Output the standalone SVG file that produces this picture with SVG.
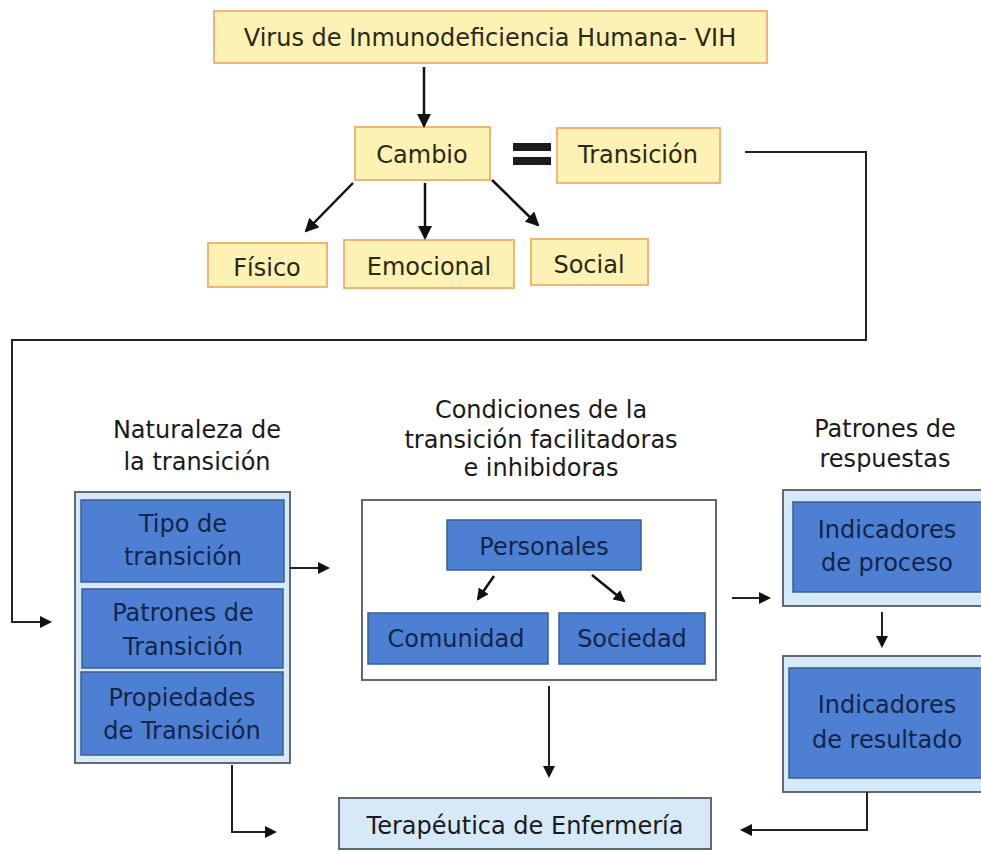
<svg xmlns="http://www.w3.org/2000/svg" width="981" height="852" viewBox="0 0 981 852">
<defs>
<style>
text{font-family:"DejaVu Sans","Verdana",sans-serif;font-size:24px;text-anchor:middle;}
.y{fill:#fdf1b4;stroke:#f0b57a;stroke-width:2;}
.yt{fill:#2a2a12;}
.b{fill:#4d80d2;stroke:#3b5d94;stroke-width:1.5;}
.bt{fill:#14244a;}
.c{fill:#d5e9f8;stroke:#5f6a73;stroke-width:2;}
.w{fill:#ffffff;stroke:#5f6a73;stroke-width:2;}
.h{fill:#1c1c1c;}
.ln{fill:none;stroke:#111;stroke-width:2.5;}
.lt{fill:none;stroke:#222;stroke-width:2;}
</style>
<marker id="ah" markerWidth="12" markerHeight="12" refX="10" refY="6" orient="auto" markerUnits="userSpaceOnUse">
<path d="M0,0 L12,6 L0,12 z" fill="#111"/>
</marker>
<marker id="ahb" markerWidth="14" markerHeight="14" refX="12" refY="7" orient="auto" markerUnits="userSpaceOnUse">
<path d="M0,0 L14,7 L0,14 z" fill="#111"/>
</marker>
</defs>
<rect width="981" height="852" fill="#ffffff"/>

<g id="equals">
<rect x="513" y="143" width="38" height="8" class="h"/>
<rect x="513" y="157" width="38" height="8" class="h"/>
</g>

<g id="vih">
<rect class="y" x="214" y="11" width="553" height="52"/>
<text class="yt" x="490" y="46">Virus de Inmunodeficiencia Humana- VIH</text>
</g>
<g id="cambio">
<rect class="y" x="355" y="127" width="135" height="53"/>
<text class="yt" x="422" y="163">Cambio</text>
</g>
<g id="transicion">
<rect class="y" x="557" y="128" width="163" height="55"/>
<text class="yt" x="638" y="163">Transición</text>
</g>
<g id="fisico">
<rect class="y" x="208" y="243" width="119" height="44"/>
<text class="yt" x="267" y="276">Físico</text>
</g>
<g id="emocional">
<rect class="y" x="344" y="240" width="170" height="48"/>
<text class="yt" x="429" y="275">Emocional</text>
</g>
<g id="social">
<rect class="y" x="531" y="239" width="117" height="46"/>
<text class="yt" x="589" y="273">Social</text>
</g>

<g id="naturaleza">
<text x="197" y="438" fill="#1a1a1a">Naturaleza de</text>
<text x="197" y="470" fill="#1a1a1a">la transición</text>
<rect class="c" x="75" y="492" width="215" height="271"/>
<rect class="b" x="81" y="500" width="203" height="82"/>
<text class="bt" x="183" y="532">Tipo de</text>
<text class="bt" x="183" y="565">transición</text>
<rect class="b" x="82" y="589" width="201" height="79"/>
<text class="bt" x="183" y="621">Patrones de</text>
<text class="bt" x="183" y="655">Transición</text>
<rect class="b" x="81" y="672" width="202" height="83"/>
<text class="bt" x="182" y="706">Propiedades</text>
<text class="bt" x="182" y="739">de Transición</text>
</g>

<g id="condiciones">
<text x="541" y="418" fill="#1a1a1a">Condiciones de la</text>
<text x="541" y="448" fill="#1a1a1a">transición facilitadoras</text>
<text x="541" y="476" fill="#1a1a1a">e inhibidoras</text>
<rect class="w" x="362" y="500" width="354" height="180"/>
</g>
<g id="personales">
<rect class="b" x="447" y="520" width="194" height="50"/>
<text class="bt" x="544" y="555">Personales</text>
</g>
<g id="comunidad">
<rect class="b" x="368" y="613" width="180" height="51"/>
<text class="bt" x="456" y="647">Comunidad</text>
</g>
<g id="sociedad">
<rect class="b" x="559" y="613" width="146" height="51"/>
<text class="bt" x="632" y="647">Sociedad</text>
</g>

<g id="patrones">
<text x="885" y="437" fill="#1a1a1a">Patrones de</text>
<text x="885" y="467" fill="#1a1a1a">respuestas</text>
</g>
<g id="proceso">
<rect class="c" x="783" y="490" width="205" height="116"/>
<rect class="b" x="793" y="502" width="195" height="90"/>
<text class="bt" x="887" y="538">Indicadores</text>
<text class="bt" x="887" y="571">de proceso</text>
</g>
<g id="resultado">
<rect class="c" x="783" y="656" width="205" height="136"/>
<rect class="b" x="789" y="668" width="199" height="110"/>
<text class="bt" x="887" y="713">Indicadores</text>
<text class="bt" x="887" y="748">de resultado</text>
</g>

<g id="terapeutica">
<rect class="c" x="339" y="798" width="372" height="51"/>
<text fill="#1a1a1a" x="525" y="834">Terapéutica de Enfermería</text>
</g>

<g id="connectors">
<line class="ln" x1="424" y1="67" x2="424" y2="126" marker-end="url(#ahb)"/>
<line class="ln" x1="353" y1="183" x2="306" y2="231" marker-end="url(#ahb)"/>
<line class="ln" x1="425" y1="183" x2="425" y2="238" marker-end="url(#ahb)"/>
<line class="ln" x1="492" y1="180" x2="538" y2="225" marker-end="url(#ahb)"/>
<polyline class="lt" points="745,152 866,152 866,340 12,340 12,622 50,622" marker-end="url(#ah)"/>
<line class="lt" x1="290" y1="568" x2="328" y2="568" marker-end="url(#ah)"/>
<line class="ln" x1="494" y1="576" x2="478" y2="599" marker-end="url(#ah)"/>
<line class="ln" x1="592" y1="575" x2="624" y2="601" marker-end="url(#ah)"/>
<line class="lt" x1="732" y1="598" x2="769" y2="598" marker-end="url(#ah)"/>
<line class="lt" x1="882" y1="612" x2="882" y2="646" marker-end="url(#ah)"/>
<line class="lt" x1="549" y1="686" x2="549" y2="776" marker-end="url(#ah)"/>
<polyline class="lt" points="867,792 867,830 742,830" marker-end="url(#ah)"/>
<polyline class="lt" points="232,765 232,832 275,832" marker-end="url(#ah)"/>
</g>
</svg>
